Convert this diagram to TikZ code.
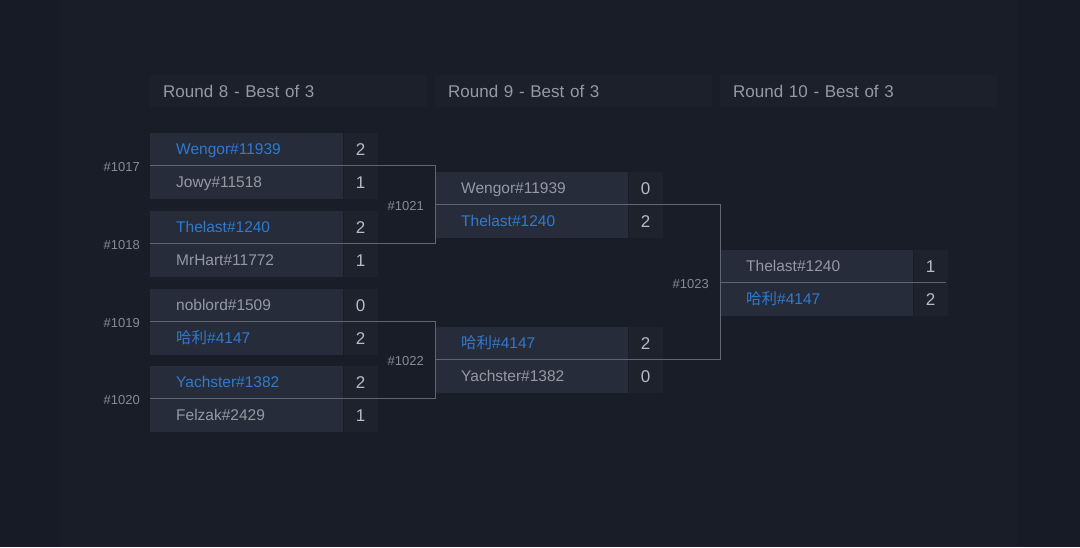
\documentclass[tikz,border=0pt]{standalone}
\usepackage{fontspec}
\setmainfont{Liberation Sans}
\newfontfamily\cjk{Noto Sans CJK SC}
\definecolor{bgout}{HTML}{171B25}
\definecolor{bgpanel}{HTML}{191D28}
\definecolor{hdrbg}{HTML}{1C202B}
\definecolor{namebg}{HTML}{272C3A}
\definecolor{scorebg}{HTML}{1E222D}
\definecolor{txtgray}{HTML}{9499A2}
\definecolor{txtblue}{HTML}{2F7AD0}
\definecolor{txtscore}{HTML}{B9BCC3}
\definecolor{lblgray}{HTML}{858A94}
\definecolor{linegray}{HTML}{5F6572}
\tikzset{
  namebox/.style={fill=namebg, anchor=north west, minimum height=32.5pt, inner ysep=0pt,
    inner xsep=26pt, text width=141pt, align=left, text height=11pt, text depth=0pt,
    font=\fontsize{15.5}{15.5}\selectfont},
  win/.style={text=txtblue},
  lose/.style={text=txtgray},
  scorebox/.style={fill=scorebg, anchor=north west, minimum height=32.5pt, minimum width=34pt,
    inner sep=0pt, text=txtscore, text height=12.2pt, text depth=0pt,
    font=\fontsize{17}{17}\selectfont},
  hdr/.style={fill=hdrbg, anchor=north west, minimum height=32pt, inner ysep=0pt,
    inner xsep=13pt, text width=251pt, align=left, text=txtgray, text height=12.2pt, text depth=0pt,
    font=\fontsize{17}{17}\selectfont},
  mlabel/.style={anchor=east, text=lblgray, inner sep=0pt, font=\fontsize{13}{13}\selectfont},
  bline/.style={draw=linegray, line width=0.9pt}
}
\newcommand\mtch[9]{%
  \node[namebox,#6] (n#1a) at (#2,#3) {#4};
  \node[scorebox] (s#1a) at (n#1a.north east) {#5};
  \node[namebox,#9] (n#1b) at (n#1a.south west) {#7};
  \node[scorebox] (s#1b) at (n#1b.north east) {#8};
}
\begin{document}
\begin{tikzpicture}[x=1pt,y=-1pt]
\useasboundingbox (0,0) rectangle (1080,547);
\fill[bgout] (0,0) rectangle (1080,547);
\fill[bgpanel] (60,0) rectangle (1018,547);
% headers
\node[hdr] (h8) at (150,75) {Round 8 - Best of 3};
\node[hdr] (h9) at (435,75) {Round 9 - Best of 3};
\node[hdr] (h10) at (720,75) {Round 10 - Best of 3};
% matches
\mtch{17}{150}{133}{Wengor\#11939}{2}{win}{Jowy\#11518}{1}{lose}
\mtch{18}{150}{211}{Thelast\#1240}{2}{win}{MrHart\#11772}{1}{lose}
\mtch{19}{150}{289}{noblord\#1509}{0}{lose}{{\cjk 哈利}\#4147}{2}{win}
\mtch{20}{150}{366}{Yachster\#1382}{2}{win}{Felzak\#2429}{1}{lose}
\mtch{21}{435}{172}{Wengor\#11939}{0}{lose}{Thelast\#1240}{2}{win}
\mtch{22}{435}{327}{{\cjk 哈利}\#4147}{2}{win}{Yachster\#1382}{0}{lose}
\mtch{23}{720}{250}{Thelast\#1240}{1}{lose}{{\cjk 哈利}\#4147}{2}{win}
% connectors
\draw[bline] (n17b.north west) -- (n17b.north west -| n21a.west) |- (n18b.north west);
\draw[bline] (n19b.north west) -- (n19b.north west -| n22a.west) |- (n20b.north west);
\draw[bline] (n21b.north west) -- (n21b.north west -| n23a.west) |- (n22b.north west);
\draw[bline] (n23b.north west) -- ([xshift=-2pt]s23b.north east);
% match labels
\node[mlabel] (l17) at ([xshift=-10pt,yshift=-1pt]n17b.north west) {\#1017};
\node[mlabel] (l18) at ([xshift=-10pt,yshift=-1pt]n18b.north west) {\#1018};
\node[mlabel] (l19) at ([xshift=-10pt,yshift=-1pt]n19b.north west) {\#1019};
\node[mlabel] (l20) at ([xshift=-10pt,yshift=-1pt]n20b.north west) {\#1020};
\node[mlabel] (l21) at ([xshift=-11pt,yshift=-1pt]n21b.north west) {\#1021};
\node[mlabel] (l22) at ([xshift=-11pt,yshift=-1pt]n22b.north west) {\#1022};
\node[mlabel] (l23) at ([xshift=-11pt,yshift=-1pt]n23b.north west) {\#1023};
\end{tikzpicture}
\end{document}
